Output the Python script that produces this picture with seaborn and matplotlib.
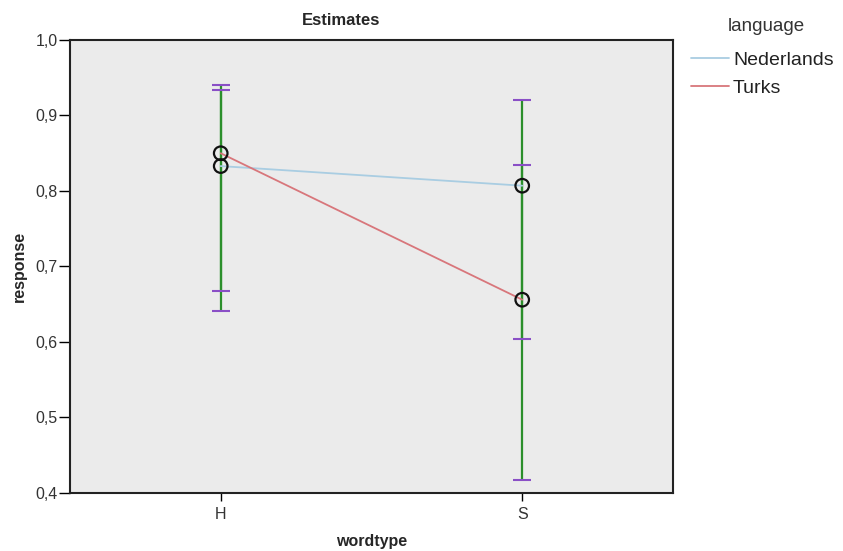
import numpy as np
import pandas as pd
import seaborn as sns
import matplotlib.pyplot as plt
from matplotlib.ticker import FuncFormatter

wordtypes = ["H", "S"]
languages = ["Nederlands", "Turks"]
nl_response = [0.833, 0.807]
tr_response = [0.850, 0.656]
nl_lower = [0.668, 0.604]
nl_upper = [0.934, 0.920]
tr_lower = [0.641, 0.417]
tr_upper = [0.940, 0.835]
yticks = [0.4, 0.5, 0.6, 0.7, 0.8, 0.9, 1.0]

df = pd.DataFrame({
    "wordtype": wordtypes * 2,
    "language": [languages[0]] * 2 + [languages[1]] * 2,
    "response": nl_response + tr_response,
    "lower": nl_lower + tr_lower,
    "upper": nl_upper + tr_upper,
})

sns.set_style("white")
plt.rcParams["font.family"] = ["Liberation Sans", "DejaVu Sans"]

fig = plt.figure(figsize=(8.43, 5.51), dpi=100)
ax = fig.add_axes([0.083, 0.1053, 0.7153, 0.8221])
ax.set_facecolor("#ebebeb")

palette = {"Nederlands": "#a9cde2", "Turks": "#d8767b"}

# error bars: green stems, purple caps
ax.vlines(df["wordtype"], df["lower"], df["upper"], color="#2b8f2b", lw=1.6, zorder=2)
for col in ["lower", "upper"]:
    ax.scatter(df["wordtype"], df[col], marker="_", s=180, color="#8a4fc6", lw=1.5, zorder=3)

sns.lineplot(data=df, x="wordtype", y="response", hue="language", palette=palette,
             lw=1.3, ax=ax, zorder=4, sort=False)
sns.scatterplot(data=df, x="wordtype", y="response", ax=ax, s=95, marker="o",
                facecolor="none", edgecolor="#111111", linewidth=1.6, zorder=5, legend=False)

ax.set_xlim(-0.5, 1.5)
ax.set_ylim(0.4, 1.0)
ax.set_yticks(yticks)
ax.yaxis.set_major_formatter(FuncFormatter(lambda v, p: f"{v:.1f}".replace(".", ",")))
ax.tick_params(axis="y", direction="out", length=8, width=1, color="black", labelsize=11.5,
               labelcolor="#333333", pad=1, left=True)
ax.tick_params(axis="x", direction="out", length=6, width=1, color="black", labelsize=11.5,
               labelcolor="#333333", pad=4, bottom=True)
for s in ax.spines.values():
    s.set_color("#222222")
    s.set_linewidth(1.5)

ax.set_xlabel("wordtype", fontsize=11.5, fontweight="bold", labelpad=9)
ax.set_ylabel("response", fontsize=11.5, fontweight="bold", labelpad=6)
fig.text(0.405, 0.962, "Estimates", ha="center", va="center", fontsize=12, fontweight="bold")

# legend title placed on its own, entries below it
fig.text(0.909, 0.9515, "language", ha="center", va="center", fontsize=13.5, color="#333333")
handles, labels = ax.get_legend_handles_labels()
leg = ax.legend(handles, labels, frameon=False, loc="upper left",
                bbox_to_anchor=(0.810, 0.921), bbox_transform=fig.transFigure,
                fontsize=14, handlelength=2.0, handletextpad=0.18,
                labelspacing=0.55, borderaxespad=0)
for t in leg.get_texts():
    t.set_color("#222222")

fig.savefig("out.png", dpi=100, facecolor="white")
